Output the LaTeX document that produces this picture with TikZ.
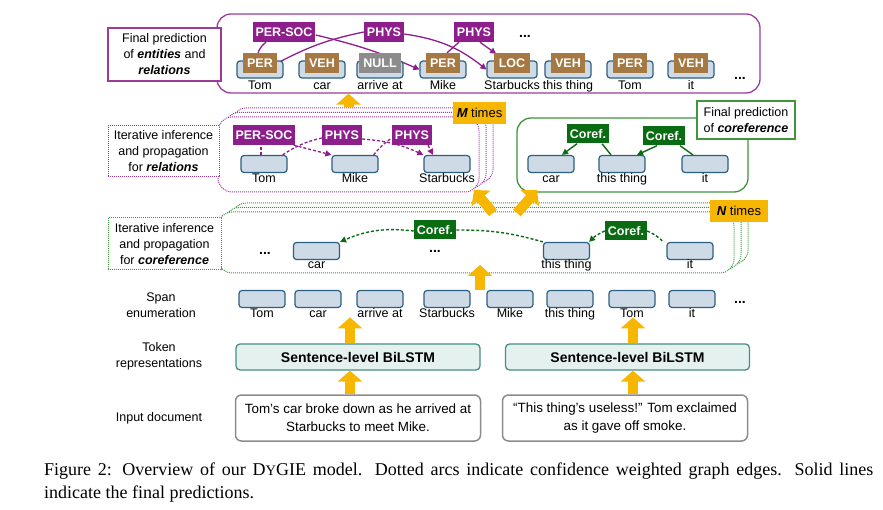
\documentclass[tikz,border=0pt]{standalone}
\usepackage{fontspec}
\setmainfont{Liberation Serif}
\newfontfamily\hv{Liberation Sans}
\usetikzlibrary{arrows.meta}
\pgfdeclarelayer{back}
\pgfdeclarelayer{mid}
\pgfsetlayers{back,mid,main}
\definecolor{relp}{RGB}{142,30,140}
\definecolor{framep}{RGB}{155,60,155}
\definecolor{entb}{RGB}{166,121,66}
\definecolor{nullg}{RGB}{140,140,140}
\definecolor{spanf}{RGB}{206,219,230}
\definecolor{spand}{RGB}{44,96,130}
\definecolor{corg}{RGB}{10,108,18}
\definecolor{frameg}{RGB}{62,150,62}
\definecolor{orng}{RGB}{247,182,0}
\definecolor{tealf}{RGB}{228,241,239}
\definecolor{teald}{RGB}{72,142,134}
\definecolor{grayb}{RGB}{140,140,140}
\tikzset{
  spanbox/.style={draw=spand, fill=spanf, line width=1.2pt, rounded corners=3pt, minimum width=46pt, minimum height=17pt, inner sep=0pt},
  lbl/.style={font=\hv\fontsize{12.5}{14}\selectfont, inner sep=0pt, anchor=base},
  tagbase/.style={text=white, font=\hv\bfseries\fontsize{12.5}{14}\selectfont, inner ysep=0pt},
  enttag/.style={tagbase, fill=entb, minimum height=20pt, inner xsep=4.5pt},
  reltag/.style={tagbase, fill=relp, minimum height=20pt, inner xsep=3pt},
  cortag/.style={tagbase, fill=corg, minimum height=19pt, inner xsep=3pt},
  sidelbl/.style={font=\hv\fontsize{12.5}{16}\selectfont, align=center, inner sep=0pt},
  sidebox/.style={sidelbl, fill=white, line width=1.1pt},
  frm/.style={rounded corners=14pt, fill=white, inner sep=0pt},
  rdot/.style={draw=framep, line width=1pt, dash pattern=on 1pt off 1pt},
  gdot/.style={draw=frameg, line width=1pt, dash pattern=on 1pt off 1pt},
  tip/.style={-{Triangle[length=6pt,width=6pt]}},
  relarc/.style={draw=relp, line width=1.3pt},
  relarcd/.style={relarc, dash pattern=on 3pt off 2pt},
  corarc/.style={draw=corg, line width=1.4pt},
  corarcd/.style={corarc, dash pattern=on 3pt off 2pt},
  dotsn/.style={font=\hv\bfseries\fontsize{14}{14}\selectfont, inner sep=0pt},
  timesbox/.style={fill=orng, font=\hv\fontsize{13}{15}\selectfont, minimum height=22pt, inner sep=0pt},
  fat/.style={draw=orng, line width=10pt, -{Triangle[length=11pt,width=24pt]}},
  lstm/.style={draw=teald, fill=tealf, line width=1.3pt, rounded corners=4pt, minimum width=244pt, minimum height=26pt, font=\hv\bfseries\fontsize{14}{16}\selectfont},
  inbox/.style={draw=grayb, line width=1.5pt, rounded corners=6pt, minimum width=245pt, minimum height=46pt, align=center, font=\hv\fontsize{13.4}{18}\selectfont}
}
\begin{document}
\begin{tikzpicture}[x=1pt,y=-1pt]
\useasboundingbox (0,0) rectangle (883,510);
% ---------- frames
\begin{pgfonlayer}{back}
\node[frm, draw=framep, line width=1.3pt, minimum width=543pt, minimum height=79pt] (F1) at (488.5,53.5) {};
\node[frm, draw=frameg, line width=1.3pt, minimum width=231pt, minimum height=74pt] (FG) at (632.5,155) {};
\foreach \i/\dx/\dy in {3/14/-9, 2/7/-4.5, 1/0/0} {
  \node[frm, rdot, minimum width=261pt, minimum height=75pt] (RF\i) at (348.5+\dx,154.5+\dy) {};
  \node[frm, gdot, minimum width=516pt, minimum height=61pt] (CF\i) at (476+\dx,242.5+\dy) {};
}
\end{pgfonlayer}
% ---------- side labels
\node[sidebox, draw=framep, minimum width=113pt, minimum height=53pt] (L1) at (164.5,54.5) {Final prediction\\of {\bfseries\itshape entities} and\\{\bfseries\itshape relations}};
\node[sidebox, rdot, minimum width=111pt, minimum height=51pt] (L2) at (163.5,151.5) {Iterative inference\\and propagation\\for {\bfseries\itshape relations}};
\node[sidebox, gdot, minimum width=113pt, minimum height=52pt] (L3) at (164.5,244) {Iterative inference\\and propagation\\for {\bfseries\itshape coreference}};
\node[sidebox, draw=frameg, minimum width=98pt, minimum height=38pt] (L4) at (746,120) {Final prediction\\of {\bfseries\itshape coreference}};
\node[sidelbl] (spanlbl) at (161,305) {Span\\enumeration};
\node[sidelbl] (toklbl) at (159,356) {Token\\representations};
\node[sidelbl] (inlbl) at (159,418) {Input document};
% ---------- times boxes
\node[timesbox, minimum width=53pt] (mt) at (479.5,113) {{\bfseries\itshape M} times};
\node[timesbox, minimum width=58pt] (nt) at (739,211) {{\bfseries\itshape N} times};
% ---------- top row: entities and relations
\foreach \n/\x/\w/\tg/\col/\lab in {1/260/46/PER/entb/Tom, 2/322/46/VEH/entb/car, 3/380/46/NULL/nullg/arrive at, 4/443/46/PER/entb/Mike, 5/512/50/LOC/entb/Starbucks, 6/568/46/VEH/entb/this thing, 7/630/46/PER/entb/Tom, 8/691/46/VEH/entb/it} {
  \node[spanbox, minimum width=\w pt] (e\n) at (\x,69.5) {};
  \node[enttag, fill=\col] (et\n) at (\x,63) {\tg};
  \node[lbl] (el\n) at (\x,90) {\lab};
}
\node[reltag] (r1) at (284,32) {PER-SOC};
\node[reltag] (r2) at (384,32) {PHYS};
\node[reltag] (r3) at (474,32) {PHYS};
\node[dotsn] (edots1) at (525,36) {...};
\node[dotsn] (edots2) at (740,78) {...};
\begin{pgfonlayer}{mid}
\draw[relarc] ([xshift=-2pt]et1.north) to[bend left=15] ([xshift=-18pt]r1.south);
\draw[relarc, tip] ([yshift=-3pt]r1.east) to[bend left=5] (e4.west);
\draw[relarc] (et1.east) to[bend left=8] (r2.west);
\draw[relarc, tip] ([yshift=-2pt]r2.east) to[bend left=15] (e5.west);
\draw[relarc] ([xshift=4pt]et4.north) -- ([xshift=-15pt]r3.south);
\draw[relarc, tip] ([xshift=6pt]r3.south) -- ([xshift=2pt,yshift=-1pt]et5.north west);
\end{pgfonlayer}
% ---------- iterative relations
\foreach \n/\x/\lab in {1/264/Tom, 2/355/Mike, 3/447/Starbucks} {
  \node[spanbox] (m\n) at (\x,164) {};
  \node[lbl] (ml\n) at (\x,183) {\lab};
}
\node[reltag] (q1) at (264,135) {PER-SOC};
\node[reltag] (q2) at (342,135) {PHYS};
\node[reltag] (q3) at (412,135) {PHYS};
\begin{pgfonlayer}{mid}
\draw[relarcd] ([xshift=-3pt]m1.north) -- ([xshift=-3pt]q1.south);
\draw[relarcd, tip] ([xshift=-2pt]q1.south east) -- (m2.north west);
\draw[relarcd] ([xshift=-5pt]m1.north east) to[bend left=10] ([yshift=-3pt]q2.west);
\draw[relarcd, tip] ([yshift=-4pt]q2.east) to[bend left=10] (m3.north west);
\draw[relarcd] ([xshift=-5pt]m2.north east) to[bend left=8] ([yshift=-3pt]q3.west);
\draw[relarcd, tip] ([xshift=16pt]q3.south) -- ([xshift=-14pt]m3.north);
\end{pgfonlayer}
% ---------- final coreference
\foreach \n/\x/\lab in {1/551/car, 2/622/this thing, 3/705/it} {
  \node[spanbox] (c\n) at (\x,164) {};
  \node[lbl] (cl\n) at (\x,183) {\lab};
}
\node[cortag] (k1) at (588,134) {Coref.};
\node[cortag] (k2) at (664,136) {Coref.};
\begin{pgfonlayer}{mid}
\draw[corarc] ([xshift=-11pt]c2.north) -- ([xshift=14pt]k1.south);
\draw[corarc, tip] ([xshift=-11pt]k1.south) -- ([xshift=11pt]c1.north);
\draw[corarc] ([xshift=-12pt]c3.north) -- ([xshift=16pt]k2.south);
\draw[corarc, tip] ([xshift=-7pt]k2.south) -- ([xshift=15pt]c2.north);
\end{pgfonlayer}
% ---------- iterative coreference
\foreach \n/\x/\lab in {1/316.5/car, 2/566.5/this thing, 3/690/it} {
  \node[spanbox] (d\n) at (\x,251) {};
  \node[lbl] (dl\n) at (\x,269) {\lab};
}
\node[dotsn] (ddots1) at (265,253) {...};
\node[dotsn] (ddots2) at (435,251) {...};
\node[cortag] (n1) at (435,230) {Coref.};
\node[cortag] (n2) at (626,231) {Coref.};
\begin{pgfonlayer}{mid}
\draw[corarcd, tip] ([yshift=-1pt]n1.west) to[bend right=15] (d1.north east);
\draw[corarcd] (n1.east) to[bend left=8] (d2.north west);
\draw[corarcd, tip] (n2.west) to[bend right=10] ([xshift=-1pt]d2.north east);
\draw[corarcd] (n2.east) to[bend left=10] ([xshift=-3pt]d3.north west);
\end{pgfonlayer}
% ---------- span enumeration
\foreach \n/\x/\lab in {1/262/Tom, 2/318/car, 3/380/arrive at, 4/447/Starbucks, 5/510/Mike, 6/570/this thing, 7/632/Tom, 8/692/it} {
  \node[spanbox] (s\n) at (\x,299) {};
  \node[lbl] (sl\n) at (\x,318) {\lab};
}
\node[dotsn] (sdots) at (740,302) {...};
% ---------- BiLSTM and input
\node[lstm] (b1) at (358,357) {Sentence-level BiLSTM};
\node[lstm] (b2) at (627.5,357) {Sentence-level BiLSTM};
\node[inbox] (i1) at (358,418) {Tom’s car broke down as he arrived at\\Starbucks to meet Mike.};
\node[inbox] (i2) at (625,418) {“This thing’s useless!” Tom exclaimed\\as it gave off smoke.};
% ---------- orange arrows
\coordinate (o2s) at (493,213); \coordinate (o2e) at (474,190);
\coordinate (o3s) at (517,213); \coordinate (o3e) at (537,190);
\coordinate (o4s) at (480,290); \coordinate (o4e) at (480,265);
\draw[fat] (RF1.north |- RF3.north) -- (F1.south -| RF1.north);
\draw[fat] (o2s) -- (o2e);
\draw[fat] (o3s) -- (o3e);
\draw[fat] (o4s) -- (o4e);
\draw[fat] ([xshift=-8pt]b1.north) -- ++(0,-26);
\draw[fat] ([xshift=5.5pt]b2.north) -- ++(0,-26);
\draw[fat] ([xshift=-8pt]i1.north) -- ([xshift=-8pt]b1.south);
\draw[fat] ([xshift=8pt]i2.north) -- ([xshift=8pt]i2.north |- b2.south);
% ---------- caption
\node[anchor=north west, align=left, inner sep=0pt, font=\fontsize{18}{23}\selectfont] (cap) at (44,462.5) {\makebox[829pt][s]{Figure 2: Overview of our D{\fontsize{14.5}{14}\selectfont Y}GIE model. Dotted arcs indicate confidence weighted graph edges. Solid lines}\\indicate the final predictions.};
\end{tikzpicture}
\end{document}
